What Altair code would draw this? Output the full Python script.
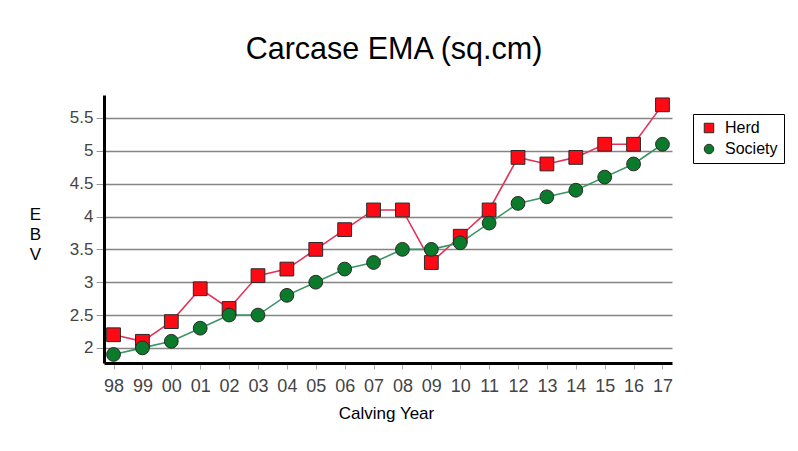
import altair as alt
import pandas as pd

years = ["98", "99", "00", "01", "02", "03", "04", "05", "06", "07",
         "08", "09", "10", "11", "12", "13", "14", "15", "16", "17"]
herd = [2.2, 2.1, 2.4, 2.9, 2.6, 3.1, 3.2, 3.5, 3.8, 4.1,
        4.1, 3.3, 3.7, 4.1, 4.9, 4.8, 4.9, 5.1, 5.1, 5.7]
society = [1.9, 2.0, 2.1, 2.3, 2.5, 2.5, 2.8, 3.0, 3.2, 3.3,
           3.5, 3.5, 3.6, 3.9, 4.2, 4.3, 4.4, 4.6, 4.8, 5.1]
series_names = ["Herd", "Society"]
y_ticks = [2, 2.5, 3, 3.5, 4, 4.5, 5, 5.5]

rows = []
for name, vals in zip(series_names, [herd, society]):
    for i, (yr, v) in enumerate(zip(years, vals)):
        rows.append({"year": yr, "ebv": v, "series": name, "order": i})
df = pd.DataFrame(rows)

FONT = "Liberation Sans"

x = alt.X(
    "year:N",
    sort=years,
    scale=alt.Scale(type="point", padding=0.33),
    axis=alt.Axis(
        labelAngle=0, domainColor="black", domainWidth=3,
        tickColor="#aaaaaa", tickSize=6, tickWidth=1,
        labelColor="#444444", labelFontSize=18, labelFont=FONT, labelPadding=8,
        grid=False,
        title="Calving Year", titleFont=FONT, titleFontSize=17,
        titleFontWeight="normal", titleColor="black",
        titleX=282, titleY=55, titleAlign="center", titleBaseline="alphabetic",
    ),
)
y = alt.Y(
    "ebv:Q",
    scale=alt.Scale(domain=[1.77, 5.85], nice=False, zero=False),
    axis=alt.Axis(
        values=y_ticks, format="~g",
        domainColor="black", domainWidth=3,
        tickColor="#999999", tickSize=8, tickWidth=1,
        labelColor="#444444", labelFontSize=17, labelFont=FONT, labelPadding=3,
        grid=True, gridColor="#858585", gridWidth=1.5,
        title=["E", "B", "V"], titleAngle=0, titleFont=FONT, titleFontSize=17,
        titleFontWeight="normal", titleColor="black",
        titleX=-69, titleY=124, titleAlign="center", titleBaseline="alphabetic",
        titleLineHeight=20,
    ),
)

base = alt.Chart(df)

lines = base.mark_line(strokeWidth=1.6).encode(
    x=x, y=y,
    color=alt.Color("series:N", scale=alt.Scale(range=["#e3325a", "#3a9464"]),
                    legend=None),
    order="order:Q",
)

points = base.mark_point(filled=True, size=190, stroke="#2a2a2a",
                         strokeWidth=1, opacity=1).encode(
    x=x, y=y,
    fill=alt.Fill("series:N", scale=alt.Scale(domain=series_names,
                  range=["#ff0a14", "#0b7a2a"]),
                  legend=alt.Legend(
                      title=None, orient="none", legendX=589, legendY=19,
                      strokeColor="black", fillColor="white",
                      padding=6, symbolOffset=2, labelOffset=8,
                      labelFontSize=16, labelFont=FONT, labelColor="black",
                      rowPadding=5, symbolSize=90,
                      symbolStrokeColor="#222222", symbolStrokeWidth=1,
                  )),
    shape=alt.Shape("series:N", scale=alt.Scale(domain=series_names,
                    range=["square", "circle"])),
)

chart = alt.layer(lines, points).properties(
    width=568,
    height=268,
    autosize=alt.AutoSizeParams(type="none"),
    padding={"left": 96, "top": 87, "right": 118, "bottom": 80},
    background="white",
    title=alt.TitleParams(
        "Carcase EMA (sq.cm)", font=FONT, fontSize=30.5, fontWeight="normal",
        color="black", anchor="middle", frame="group", baseline="alphabetic",
        offset=6, dx=6,
    ),
).configure_view(strokeWidth=0)

chart.save("out.html", embed_options={"renderer": "svg", "actions": False})
